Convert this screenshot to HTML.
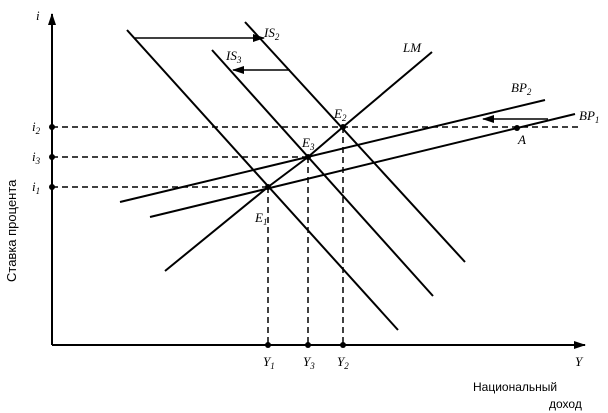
<!DOCTYPE html>
<html><head><meta charset="utf-8"><style>body{margin:0;background:#fff}svg{display:block}text{font-family:"Liberation Serif",serif;font-style:italic;font-size:13px}</style></head><body>
<svg width="608" height="413" viewBox="0 0 608 413" xmlns="http://www.w3.org/2000/svg">
<defs><marker id="ar" markerWidth="12" markerHeight="8" refX="11" refY="4" orient="auto" markerUnits="userSpaceOnUse"><path d="M0,0 L12,4 L0,8 Z" fill="#000"/></marker></defs>
<g stroke="#000" stroke-width="2" fill="none">
<line x1="52" y1="345" x2="52" y2="14" marker-end="url(#ar)"/>
<line x1="52" y1="345" x2="585" y2="345" marker-end="url(#ar)"/>
<polyline points="165,271 268,187 308,157 343,127 432,52"/>
<line x1="127" y1="30" x2="398" y2="330"/>
<line x1="212" y1="50" x2="433" y2="296"/>
<line x1="245" y1="22" x2="465" y2="262"/>
<line x1="120" y1="202" x2="545" y2="100"/>
<line x1="150" y1="217" x2="575" y2="114"/>
</g>
<g stroke="#000" stroke-width="1.5" fill="none">
<line x1="135" y1="38" x2="264" y2="38" marker-end="url(#ar)"/>
<line x1="290" y1="70" x2="233" y2="70" marker-end="url(#ar)"/>
<line x1="548" y1="119" x2="483" y2="119" marker-end="url(#ar)"/>
</g>
<g stroke="#000" stroke-width="1.5" stroke-dasharray="6,4" fill="none">
<line x1="52" y1="127" x2="578" y2="127"/>
<line x1="52" y1="157" x2="308" y2="157"/>
<line x1="52" y1="187" x2="268" y2="187"/>
<line x1="268" y1="187" x2="268" y2="345"/>
<line x1="308" y1="157" x2="308" y2="345"/>
<line x1="343" y1="127" x2="343" y2="345"/>
</g>
<g fill="#000">
<circle cx="52" cy="127" r="3"/><circle cx="52" cy="157" r="3"/><circle cx="52" cy="187" r="3"/>
<circle cx="268" cy="187" r="3"/><circle cx="308" cy="157" r="3"/><circle cx="343" cy="127" r="3"/>
<circle cx="268" cy="345" r="3"/><circle cx="308" cy="345" r="3"/><circle cx="343" cy="345" r="3"/>
<circle cx="517" cy="128" r="3"/>
</g>
<text x="36" y="20">i</text>
<text x="32" y="131">i<tspan font-size="9" dy="3">2</tspan></text>
<text x="32" y="161">i<tspan font-size="9" dy="3">3</tspan></text>
<text x="32" y="191">i<tspan font-size="9" dy="3">1</tspan></text>
<text x="264" y="37">IS<tspan font-size="9" dy="3">2</tspan></text>
<text x="226" y="60">IS<tspan font-size="9" dy="3">3</tspan></text>
<text x="403" y="52">LM</text>
<text x="511" y="92">BP<tspan font-size="9" dy="3">2</tspan></text>
<text x="579" y="120">BP<tspan font-size="9" dy="3">1</tspan></text>
<text x="518" y="144">A</text>
<text x="334" y="118">E<tspan font-size="9" dy="3">2</tspan></text>
<text x="302" y="147">E<tspan font-size="9" dy="3">3</tspan></text>
<text x="255" y="222">E<tspan font-size="9" dy="3">1</tspan></text>
<text x="263" y="366">Y<tspan font-size="9" dy="3">1</tspan></text>
<text x="303" y="366">Y<tspan font-size="9" dy="3">3</tspan></text>
<text x="337" y="366">Y<tspan font-size="9" dy="3">2</tspan></text>
<text x="575" y="366">Y</text>
<text x="473" y="391" style="font-family:'Liberation Sans',sans-serif;font-style:normal;font-size:12px">Национальный</text>
<text x="549" y="408" style="font-family:'Liberation Sans',sans-serif;font-style:normal;font-size:12px">доход</text>
<text transform="translate(16,282) rotate(-90)" style="font-family:'Liberation Sans',sans-serif;font-style:normal;font-size:13px">Ставка процента</text>
</svg>
</body></html>
